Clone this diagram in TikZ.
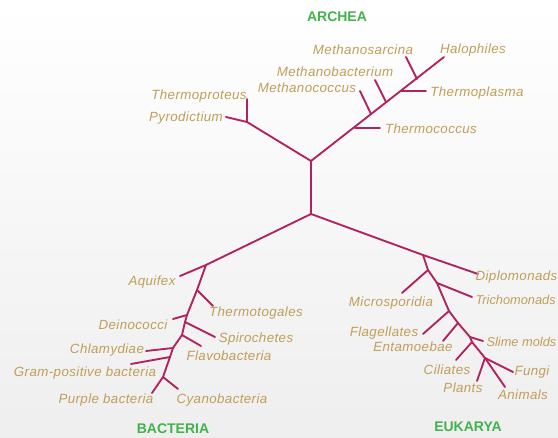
\documentclass[tikz,border=0pt]{standalone}
\usepackage{fontspec}
\setmainfont{Liberation Sans}
\newfontfamily\taxonfont[LetterSpace=3]{Liberation Sans}
\newfontfamily\tighttaxonfont{Liberation Sans}

\definecolor{branchred}{RGB}{178,34,94}
\definecolor{taxontan}{RGB}{192,158,88}
\definecolor{domaingreen}{RGB}{66,178,78}

\tikzset{
  branch/.style={draw=branchred, line width=1.4pt, line cap=round, line join=round},
  taxon/.style={text=taxontan, font=\taxonfont\itshape\fontsize{10}{12}\selectfont, inner sep=1pt},
  tighttaxon/.style={taxon, font=\tighttaxonfont\itshape\fontsize{9.6}{12}\selectfont},
  domainlabel/.style={text=domaingreen, font=\bfseries\fontsize{10.5}{12}\selectfont, inner sep=1pt}
}

\begin{document}
\begin{tikzpicture}[x=0.75pt, y=-0.75pt]
    % Background
    \shade[top color=white, bottom color=gray!13] (0,0) rectangle (558,438);
    \useasboundingbox (0,0) rectangle (558,438);

    % Coordinates of the main forks
    \coordinate (root) at (311,214);
    \coordinate (arch) at (311,161);
    \coordinate (bact) at (206,265);
    \coordinate (euk)  at (423,255);

    % Archaea: crenarchaeal fork
    \coordinate (cren) at (247,122);
    \coordinate (thermoproteusEnd) at (247,99);
    \coordinate (pyrodictiumEnd) at (226,117);

    % Archaea: euryarchaeal line and its side branches
    \coordinate (a1) at (355,128);  \coordinate (thermococcusEnd) at (380,128);
    \coordinate (a2) at (371,114);  \coordinate (methanococcusEnd) at (360,91);
    \coordinate (a3) at (386,102);  \coordinate (methanobactEnd) at (375,80);
    \coordinate (a4) at (401,91);   \coordinate (thermoplasmaEnd) at (426,91);
    \coordinate (a5) at (417,79);   \coordinate (methanosarcinaEnd) at (406,57);
    \coordinate (halophilesEnd) at (444,57);

    % Bacteria: stem and its side branches
    \coordinate (aquifexEnd) at (180,276);
    \coordinate (b1) at (197,290);  \coordinate (thermotogalesEnd) at (213,306);
    \coordinate (b2) at (187,315);  \coordinate (deinococciEnd) at (173,319);
    \coordinate (b3) at (185,322);  \coordinate (spirochetesEnd) at (215,337);
    \coordinate (b4) at (182,335);  \coordinate (flavoEnd) at (201,346);
    \coordinate (b5) at (173,348);  \coordinate (chlamydiaeEnd) at (146,351);
    \coordinate (b6) at (170,357);  \coordinate (gramEnd) at (131,364);
    \coordinate (b7) at (163,377);  \coordinate (cyanoEnd) at (178,389);
    \coordinate (purpleEnd) at (152,393);

    % Eukarya: stem and its side branches
    \coordinate (diplomonadsEnd) at (478,274);
    \coordinate (e1) at (428,270);  \coordinate (microsporidiaEnd) at (402,293);
    \coordinate (e2) at (437,283);  \coordinate (trichomonadsEnd) at (472,297);
    \coordinate (e3) at (449,311);  \coordinate (flagellatesEnd) at (423,334);
    \coordinate (e4) at (458,323);  \coordinate (entamoebaeEnd) at (443,341);
    \coordinate (e5) at (470,337);  \coordinate (slimeEnd) at (483,341);
    \coordinate (e6) at (472,342);  \coordinate (ciliatesEnd) at (456,360);
    \coordinate (e7) at (485,358);  \coordinate (fungiEnd) at (513,372);
    \coordinate (plantsEnd) at (477,381);
    \coordinate (animalsEnd) at (505,387);

    % Trunk
    \draw[branch] (root) -- (arch);
    \draw[branch] (arch) -- (cren);
    \draw[branch] (arch) -- (halophilesEnd);
    \draw[branch] (root) -- (bact) -- (aquifexEnd);
    \draw[branch] (root) -- (euk) -- (diplomonadsEnd);

    % Archaea branches
    \draw[branch] (thermoproteusEnd) -- (cren) -- (pyrodictiumEnd);
    \draw[branch] (a1) -- (thermococcusEnd);
    \draw[branch] (a2) -- (methanococcusEnd);
    \draw[branch] (a3) -- (methanobactEnd);
    \draw[branch] (a4) -- (thermoplasmaEnd);
    \draw[branch] (a5) -- (methanosarcinaEnd);

    % Bacteria branches
    \draw[branch] (bact) -- (b1) -- (b2) -- (b3) -- (b4) -- (b5) -- (b6) -- (b7) -- (purpleEnd);
    \draw[branch] (b1) -- (thermotogalesEnd);
    \draw[branch] (b2) -- (deinococciEnd);
    \draw[branch] (b3) -- (spirochetesEnd);
    \draw[branch] (b4) -- (flavoEnd);
    \draw[branch] (b5) -- (chlamydiaeEnd);
    \draw[branch] (b6) -- (gramEnd);
    \draw[branch] (b7) -- (cyanoEnd);

    % Eukarya branches
    \draw[branch] (euk) -- (e1) -- (e2) -- (e3) -- (e4) -- (e5) -- (e6) -- (e7) -- (animalsEnd);
    \draw[branch] (e1) -- (microsporidiaEnd);
    \draw[branch] (e2) -- (trichomonadsEnd);
    \draw[branch] (e3) -- (flagellatesEnd);
    \draw[branch] (e4) -- (entamoebaeEnd);
    \draw[branch] (e5) -- (slimeEnd);
    \draw[branch] (e6) -- (ciliatesEnd);
    \draw[branch] (e7) -- (fungiEnd);
    \draw[branch] (e7) -- (plantsEnd);

    % Domain labels
    \node[domainlabel] (archea) at (337,17) {ARCHEA};
    \node[domainlabel] (bacteria) at (173,429) {BACTERIA};
    \node[domainlabel] (eukarya) at (468,427) {EUKARYA};

    % Archaea labels
    \node[taxon] (methanosarcina) at (363,50) {Methanosarcina};
    \node[taxon] (halophiles) at (473,50) {Halophiles};
    \node[taxon] (methanobacterium) at (335,72) {Methanobacterium};
    \node[taxon] (methanococcus) at (307,88) {Methanococcus};
    \node[taxon] (thermoplasma) at (477,93) {Thermoplasma};
    \node[taxon] (thermoproteus) at (199,96) {Thermoproteus};
    \node[taxon] (pyrodictium) at (186,118) {Pyrodictium};
    \node[taxon] (thermococcus) at (431,129) {Thermococcus};

    % Bacteria labels
    \node[taxon] (aquifex) at (152,282) {Aquifex};
    \node[taxon] (thermotogales) at (256,313) {Thermotogales};
    \node[taxon] (deinococci) at (133,325) {Deinococci};
    \node[taxon] (spirochetes) at (256,339) {Spirochetes};
    \node[taxon] (flavobacteria) at (229,356) {Flavobacteria};
    \node[taxon] (chlamydiae) at (107,350) {Chlamydiae};
    \node[taxon] (grampos) at (85,373) {Gram-positive bacteria};
    \node[taxon] (purple) at (106,400) {Purple bacteria};
    \node[taxon] (cyanobacteria) at (222,400) {Cyanobacteria};

    % Eukarya labels
    \node[taxon, anchor=west] (diplomonads) at (474,277) {Diplomonads};
    \node[tighttaxon, anchor=west] (trichomonads) at (474,300) {Trichomonads};
    \node[taxon] (microsporidia) at (391,303) {Microsporidia};
    \node[taxon] (flagellates) at (384,333) {Flagellates};
    \node[taxon] (entamoebae) at (413,347) {Entamoebae};
    \node[tighttaxon, anchor=west] (slimemolds) at (485,342) {Slime molds};
    \node[taxon] (ciliates) at (447,370) {Ciliates};
    \node[taxon] (fungi) at (532,372) {Fungi};
    \node[taxon] (plants) at (463,388) {Plants};
    \node[taxon] (animals) at (523,395) {Animals};
\end{tikzpicture}
\end{document}
